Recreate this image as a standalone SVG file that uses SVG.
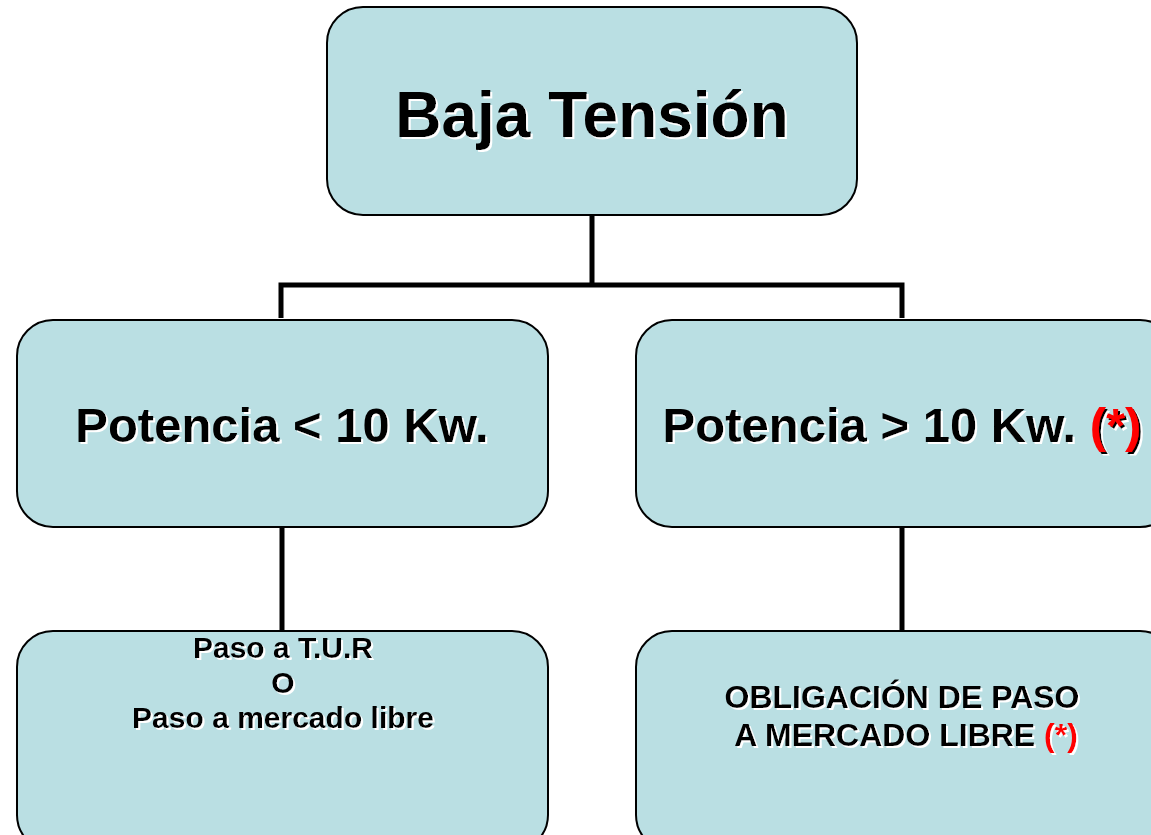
<svg xmlns="http://www.w3.org/2000/svg" width="1151" height="835" viewBox="0 0 1151 835">
<defs>
<filter id="sw" x="-5%" y="-20%" width="110%" height="140%">
<feFlood flood-color="#ffffff"/>
<feComposite in2="SourceAlpha" operator="in"/>
<feOffset dx="1.5" dy="1.5" result="s"/>
<feMerge><feMergeNode in="s"/><feMergeNode in="SourceGraphic"/></feMerge>
</filter>
<filter id="sb" x="-5%" y="-20%" width="110%" height="140%">
<feFlood flood-color="#000000"/>
<feComposite in2="SourceAlpha" operator="in"/>
<feOffset dx="1.5" dy="1.5" result="s"/>
<feMerge><feMergeNode in="s"/><feMergeNode in="SourceGraphic"/></feMerge>
</filter>
</defs>
<style>
.box{fill:#BADFE3;stroke:#000;stroke-width:2}
.t{font-family:"Liberation Sans",Arial,sans-serif;font-weight:bold;fill:#000;text-anchor:middle}
.red{fill:#ff0000}
.conn{fill:none;stroke:#000;stroke-width:5}
</style>
<rect width="1151" height="835" fill="#ffffff"/>
<g id="connectors">
<path class="conn" d="M592,215 V285 M281,318 V285 H902 V318"/>
<path class="conn" d="M282,527 V631"/>
<path class="conn" d="M902,527 V631"/>
</g>
<g id="n-baja">
<rect class="box" x="327" y="7" width="530" height="208" rx="36"/>
<text class="t" x="592" y="137" font-size="64" filter="url(#sw)">Baja Tensión</text>
</g>
<g id="n-menor">
<rect class="box" x="17" y="320" width="531" height="207" rx="36"/>
<text class="t" x="282" y="442" font-size="49" filter="url(#sw)">Potencia &lt; 10 Kw.</text>
</g>
<g id="n-mayor">
<rect class="box" x="636" y="320" width="540" height="207" rx="36"/>
<text class="t" x="902" y="442" font-size="49" filter="url(#sw)">Potencia &gt; 10 Kw. <tspan class="red" filter="url(#sb)">(*)</tspan></text>
</g>
<g id="n-tur">
<rect class="box" x="17" y="631" width="531" height="220" rx="36"/>
<text class="t" x="283" y="658" font-size="30" filter="url(#sw)">Paso a T.U.R</text>
<text class="t" x="283" y="693" font-size="30" filter="url(#sw)">O</text>
<text class="t" x="283" y="728" font-size="30" filter="url(#sw)">Paso a mercado libre</text>
</g>
<g id="n-obligacion">
<rect class="box" x="636" y="631" width="540" height="220" rx="36"/>
<text class="t" x="902" y="708" font-size="32" filter="url(#sw)">OBLIGACIÓN DE PASO</text>
<text class="t" x="906" y="746" font-size="32" filter="url(#sw)">A MERCADO LIBRE <tspan class="red">(*)</tspan></text>
</g>
</svg>
